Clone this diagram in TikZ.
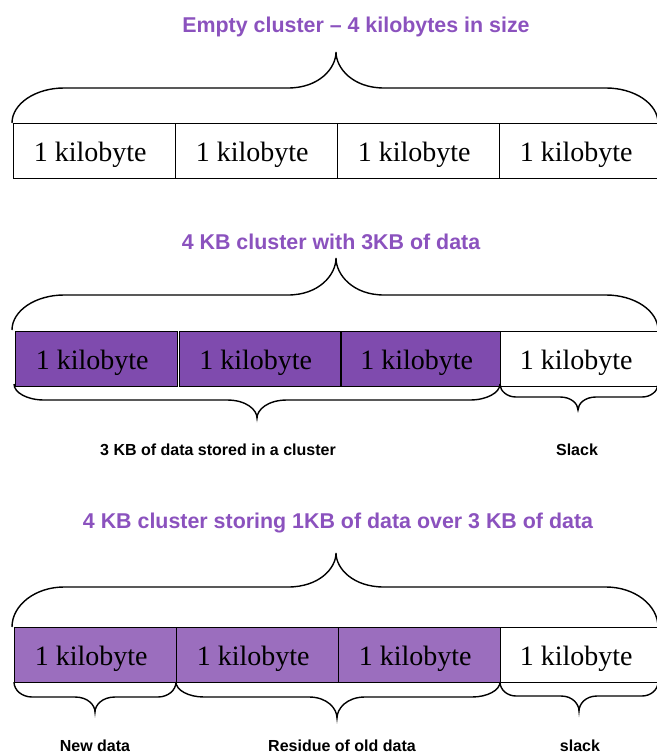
\documentclass[tikz,border=0pt]{standalone}
\usepackage{fontspec}
\setmainfont{Liberation Serif}
\setsansfont{Liberation Sans}
\definecolor{ttl}{RGB}{139,82,190}
\definecolor{dark}{RGB}{127,75,174}
\definecolor{light}{RGB}{155,110,190}
\newcommand{\kb}{1 kilobyte\hspace*{9pt}}
\newcommand{\cbrace}[8]{%
 % #1 x0, #2 x1, #3 xc, #4 yend, #5 ymid, #6 ytip, #7 end radius, #8 tip radius
 \draw[bracestyle] (#1,#4) .. controls (#1,{#5+0.45*(#4-#5)}) and ({#1+0.45*#7},#5) .. ({#1+#7},#5)
   -- ({#3-#8},#5) .. controls ({#3-0.35*#8},#5) and (#3,{#5+0.55*(#6-#5)}) .. (#3,#6)
   .. controls (#3,{#5+0.55*(#6-#5)}) and ({#3+0.35*#8},#5) .. ({#3+#8},#5)
   -- ({#2-#7},#5) .. controls ({#2-0.45*#7},#5) and (#2,{#5+0.45*(#4-#5)}) .. (#2,#4);}
\begin{document}
\begin{tikzpicture}[x=1pt,y=-1pt,
  bracestyle/.style={draw=black,line width=1.4pt},
  box/.style={draw=black,line width=1.4pt,inner sep=0pt,anchor=north west,minimum height=55pt,
    text height=23pt,text depth=3pt,font=\fontsize{28}{28}\selectfont},
  title/.style={font=\sffamily\bfseries\fontsize{21.4}{21.4}\selectfont,text=ttl,inner sep=0pt},
  lbl/.style={font=\sffamily\bfseries\fontsize{16}{16}\selectfont,text=black,inner sep=0pt}]
\useasboundingbox (0,0) rectangle (656,754);
% ---------- Row 1 ----------
\node[title] (t1) at (356,27) {Empty cluster – 4 kilobytes in size};
\cbrace{12}{658}{336}{123}{88}{52}{52}{48}
\node[box,minimum width=162pt] (a1) at (13,123) {\kb};
\node[box,minimum width=162pt] (a2) at (175,123) {\kb};
\node[box,minimum width=162pt] (a3) at (337,123) {\kb};
\node[box,minimum width=162pt] (a4) at (499,123) {\kb};
% ---------- Row 2 ----------
\node[title] (t2) at (331,242) {4 KB cluster with 3KB of data};
\cbrace{12}{658}{336}{330}{295}{258}{52}{48}
\node[box,fill=dark,minimum width=162pt] (b1) at (15,331) {\kb};
\node[box,fill=dark,minimum width=161pt] (b2) at (179,331) {\kb};
\node[box,fill=dark,minimum width=159pt] (b3) at (341,331) {\kb};
\node[box,minimum width=160pt] (b4) at (500,331) {\kb};
\cbrace{14}{500}{257}{384}{400}{418}{30}{30}
\cbrace{500}{658}{578}{384}{397}{410}{16}{18}
\node[lbl] (l1) at (218,450) {3 KB of data stored in a cluster};
\node[lbl] (l2) at (577,450) {Slack};
% ---------- Row 3 ----------
\node[title] (t3) at (338,523) {4 KB cluster storing 1KB of data over 3 KB of data};
\cbrace{12}{658}{336}{627}{587}{553}{52}{48}
\node[box,fill=light,minimum width=162pt] (c1) at (14,627) {\kb};
\node[box,fill=light,minimum width=162pt] (c2) at (176,627) {\kb};
\node[box,fill=light,minimum width=162pt] (c3) at (338,627) {\kb};
\node[box,minimum width=160pt] (c4) at (500,627) {\kb};
\cbrace{14}{176}{95}{682}{697}{712}{18}{20}
\cbrace{176}{500}{337}{682}{697}{718}{28}{28}
\cbrace{500}{658}{579}{682}{696}{711}{16}{18}
\node[lbl] (l3) at (95,746) {New data};
\node[lbl] (l4) at (342,746) {Residue of old data};
\node[lbl] (l5) at (580,746) {slack};
\end{tikzpicture}
\end{document}
